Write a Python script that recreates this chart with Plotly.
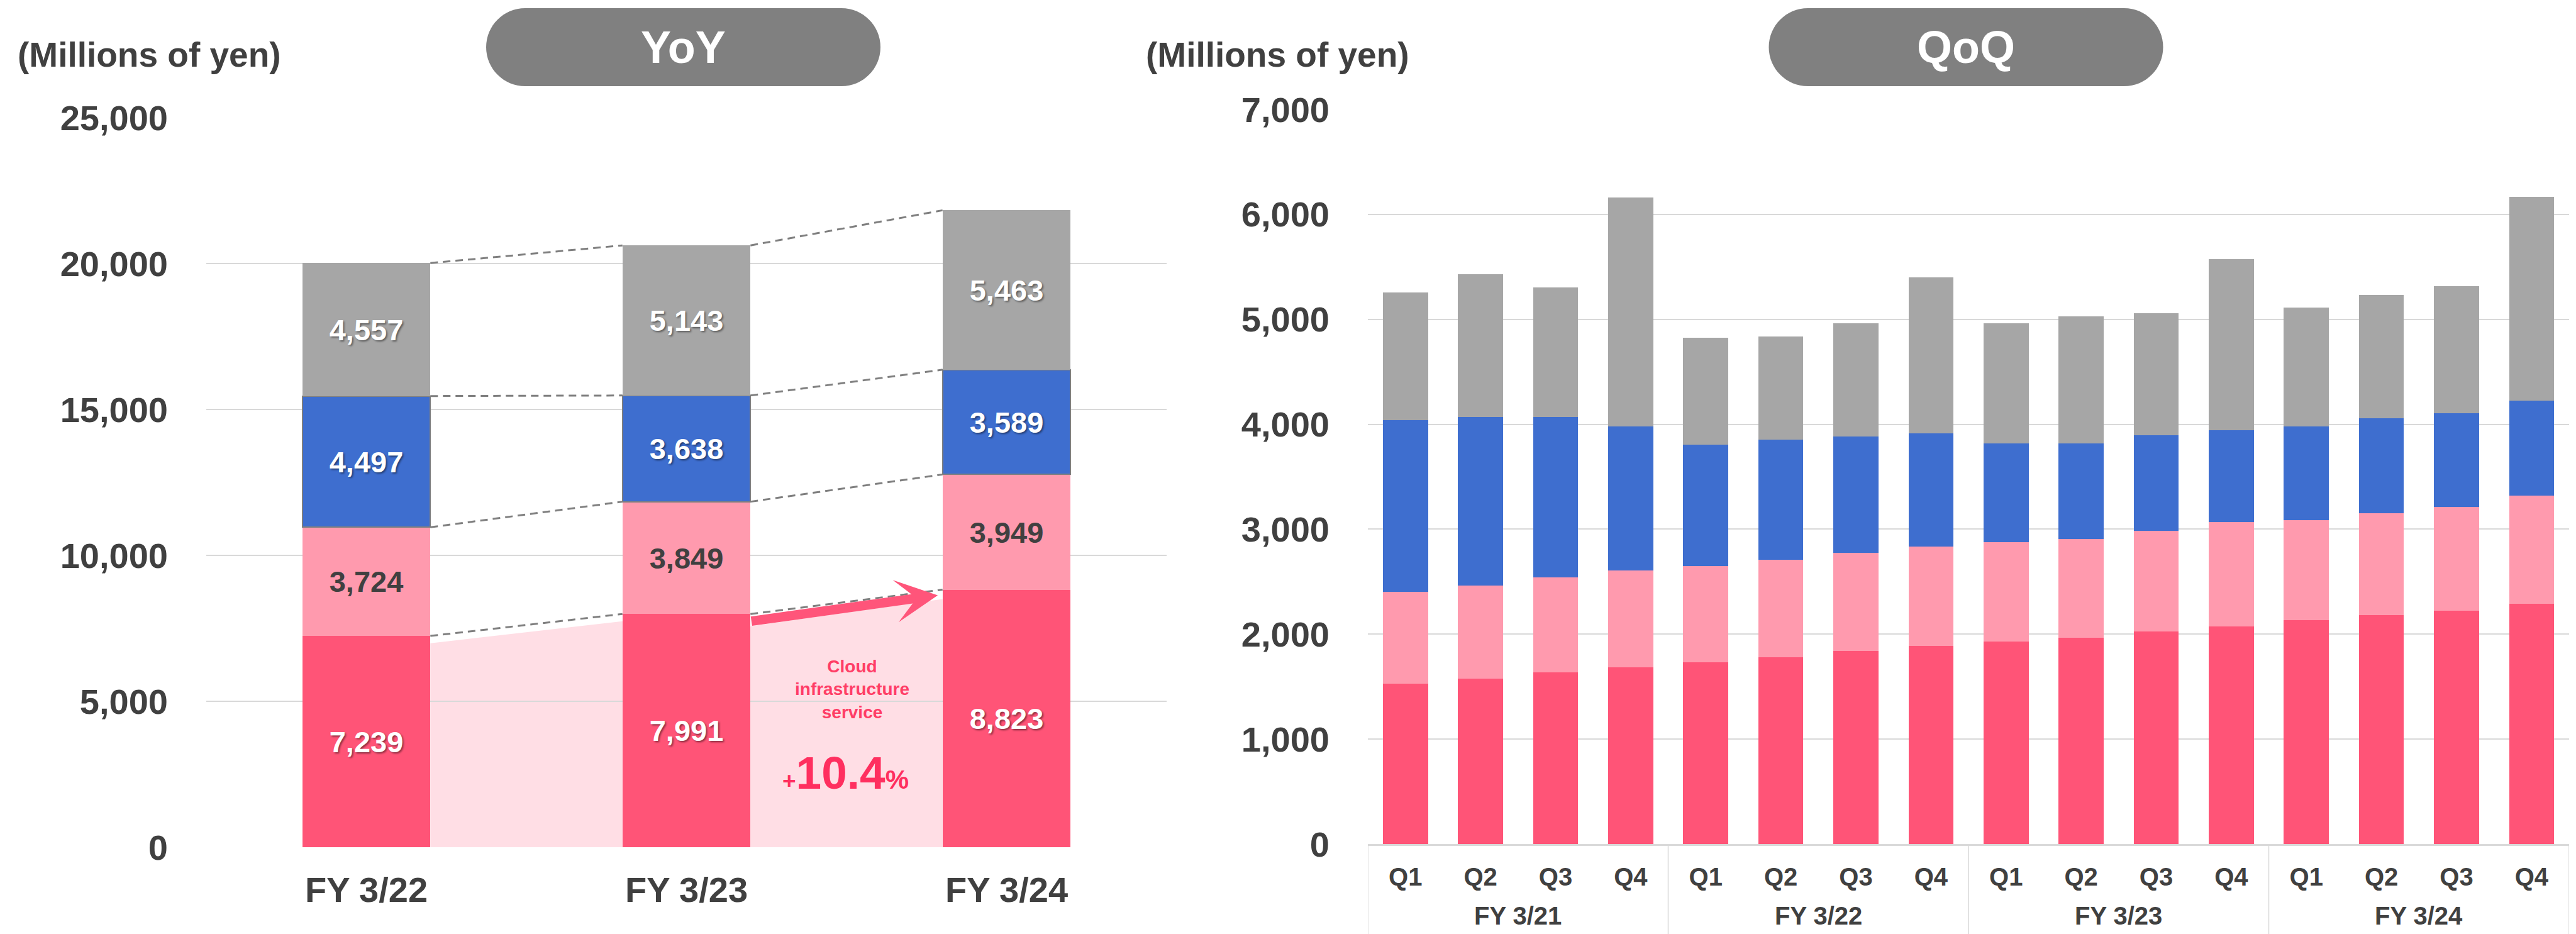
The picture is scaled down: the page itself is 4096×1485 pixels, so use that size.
import plotly.graph_objects as go

W, H = 4096, 1485
FONT = "Liberation Sans, Arial, sans-serif"
TXT = "#404040"

# ---------------- data ----------------
yoy_cats = ["FY 3/22", "FY 3/23", "FY 3/24"]
yoy_cloud = [7239, 7991, 8823]
yoy_pink = [3724, 3849, 3949]
yoy_blue = [4497, 3638, 3589]
yoy_gray = [4557, 5143, 5463]

fy_groups = ["FY 3/21", "FY 3/22", "FY 3/23", "FY 3/24"]
quarters = ["Q1", "Q2", "Q3", "Q4"]
qoq_cloud = [1529, 1576, 1639, 1685, 1732, 1779, 1841, 1887,
             1932, 1963, 2025, 2071, 2132, 2179, 2225, 2287]
qoq_pink = [874, 889, 904, 920, 916, 930, 931, 947,
            946, 946, 962, 995, 957, 972, 988, 1032]
qoq_blue = [1637, 1606, 1528, 1372, 1160, 1143, 1113, 1081,
            941, 910, 910, 877, 889, 905, 890, 905]
qoq_gray = [1216, 1356, 1232, 2183, 1014, 984, 1077, 1482,
            1145, 1208, 1161, 1629, 1132, 1179, 1210, 1942]

# ---------------- style ----------------
C_RED = "#FF5477"
C_PINK = "#FF9AAE"
C_BLUE = "#3E6ECF"
C_GRAY = "#A6A6A6"
C_AREA = "#FFDEE5"
GRID = "#D9D9D9"
SHADOW = "2px 2px 3px rgba(0,0,0,0.45)"

fig = go.Figure()

# ---------------- YoY stacked bars ----------------
yoy_x = list(range(len(yoy_cats)))
BW_L = 0.4
series_l = [
    (yoy_cloud, C_RED, "white", SHADOW, 0, None),
    (yoy_pink, C_PINK, TXT, "none", 0, None),
    (yoy_blue, C_BLUE, "white", SHADOW, 2, "#7F7F7F"),
    (yoy_gray, C_GRAY, "white", SHADOW, 0, None),
]
for vals, col, tcol, sh, lw, lc in series_l:
    fig.add_trace(go.Bar(
        x=yoy_x, y=vals, width=BW_L, xaxis="x", yaxis="y",
        marker=dict(color=col, line=dict(width=lw, color=lc or col)),
        text=[f"{v:,}" for v in vals], textposition="inside",
        insidetextanchor="middle", textangle=0, constraintext="none",
        textfont=dict(family=FONT, size=47, color=tcol, weight=700, shadow=sh),
        showlegend=False, hoverinfo="skip"))

# ---------------- QoQ stacked bars ----------------
qoq_x = list(range(len(qoq_cloud)))
BW_R = 0.6
for vals, col in [(qoq_cloud, C_RED), (qoq_pink, C_PINK),
                  (qoq_blue, C_BLUE), (qoq_gray, C_GRAY)]:
    fig.add_trace(go.Bar(
        x=qoq_x, y=vals, width=BW_R, xaxis="x2", yaxis="y2",
        marker=dict(color=col, line=dict(width=0)),
        showlegend=False, hoverinfo="skip"))

shapes = []
annotations = []

# cumulative levels for connectors
levels = []
acc = [0] * len(yoy_x)
for vals in [yoy_cloud, yoy_pink, yoy_blue, yoy_gray]:
    acc = [a + v for a, v in zip(acc, vals)]
    levels.append(acc)

hw = BW_L / 2
for lev in levels:
    for i in range(len(yoy_x) - 1):
        shapes.append(dict(type="line", xref="x", yref="y",
                           x0=yoy_x[i] + hw, y0=lev[i],
                           x1=yoy_x[i + 1] - hw, y1=lev[i + 1],
                           line=dict(color="#7F7F7F", width=3, dash="12px,8px"),
                           layer="above"))

# light pink growth area behind bars
off1, off2, off3 = 250, 420, 320
pts = [(yoy_x[0] + hw, yoy_cloud[0] - off1),
       (yoy_x[1] - hw, yoy_cloud[1] - off1),
       (yoy_x[1] + hw, yoy_cloud[1] - off2),
       (yoy_x[2] - hw, yoy_cloud[2] - off3)]
path = f"M {pts[0][0]},0 " + " ".join(f"L {px},{py}" for px, py in pts) + f" L {pts[-1][0]},0 Z"
shapes.append(dict(type="path", xref="x", yref="y", path=path,
                   fillcolor=C_AREA, line=dict(width=0), layer="below"))

# arrow
annotations.append(dict(
    x=yoy_x[2] - hw - 0.015, y=yoy_cloud[2] - 190,
    ax=yoy_x[1] + hw, ay=yoy_cloud[1] - 250,
    xref="x", yref="y", axref="x", ayref="y",
    showarrow=True, arrowhead=3, arrowsize=0.75, arrowwidth=15,
    arrowcolor="#FF557A", text="", standoff=0, startstandoff=0))

annotations.append(dict(
    x=1.517, y=5400, xref="x", yref="y", showarrow=False,
    text="Cloud<br>infrastructure<br>service",
    font=dict(family=FONT, size=28, color="#FF3D66", weight=700),
    align="center", xanchor="center", yanchor="middle"))
annotations.append(dict(
    x=1.497, y=2550, xref="x", yref="y", showarrow=False,
    text='<span style="font-size:37px">+</span>10.4<span style="font-size:42px">%</span>',
    font=dict(family=FONT, size=73, color="#FF2F5F", weight=700),
    xanchor="center", yanchor="middle"))

# titles
for cx in [237, 2031]:
    annotations.append(dict(
        x=cx / W, y=1 - 87 / H, xref="paper", yref="paper", showarrow=False,
        text="(Millions of yen)", xanchor="center", yanchor="middle",
        font=dict(family=FONT, size=55, color=TXT, weight=700)))


def stadium(w, h):
    r = h / 2
    a = w / 2 - r
    k = 0.5523 * r
    return (f"M {-a},{-r} L {a},{-r} C {a + k},{-r} {w/2},{-k} {w/2},0 "
            f"C {w/2},{k} {a + k},{r} {a},{r} L {-a},{r} "
            f"C {-a - k},{r} {-w/2},{k} {-w/2},0 C {-w/2},{-k} {-a - k},{-r} {-a},{-r} Z")


for cx, label in [(1086.5, "YoY"), (3126, "QoQ")]:
    shapes.append(dict(type="path", xref="paper", yref="paper",
                       xsizemode="pixel", ysizemode="pixel",
                       xanchor=cx / W, yanchor=1 - 75 / H,
                       path=stadium(627, 124), fillcolor="#808080",
                       line=dict(width=0), layer="above"))
    annotations.append(dict(
        x=cx / W, y=1 - 75 / H, xref="paper", yref="paper", showarrow=False,
        text=label, xanchor="center", yanchor="middle",
        font=dict(family=FONT, size=72, color="white", weight=700)))

# QoQ group dividers and labels
y2_bottom = 1 - 1342 / H
for g in range(len(fy_groups) + 1):
    shapes.append(dict(type="line", xref="x2", yref="paper",
                       x0=g * 4 - 0.5, x1=g * 4 - 0.5, y0=0, y1=y2_bottom,
                       line=dict(color=GRID, width=1.5)))
for g, name in enumerate(fy_groups):
    annotations.append(dict(
        x=g * 4 + 1.5, y=1 - 1456 / H, xref="x2", yref="paper",
        showarrow=False, text=name, xanchor="center", yanchor="middle",
        font=dict(family=FONT, size=40, color=TXT, weight=700)))

tickf_big = dict(family=FONT, size=56, color=TXT, weight=700)
tickf_small = dict(family=FONT, size=40, color=TXT, weight=700)

fig.update_layout(
    width=W, height=H, autosize=False,
    margin=dict(l=0, r=0, t=0, b=0, pad=0, autoexpand=False),
    paper_bgcolor="white", plot_bgcolor="white",
    barmode="stack", bargap=0,
    showlegend=False,
    shapes=shapes, annotations=annotations,
    xaxis=dict(domain=[328 / W, 1855 / W], range=[-0.5, 2.5], anchor="y",
               tickvals=yoy_x, ticktext=yoy_cats, showgrid=False,
               zeroline=False, showline=False, ticks="", automargin=False,
               tickfont=tickf_big, ticklabelstandoff=30, fixedrange=True),
    yaxis=dict(domain=[1 - 1347 / H, 1 - 187 / H], range=[0, 25000], anchor="x",
               tickvals=list(range(0, 25001, 5000)), tickformat=",",
               showgrid=True, gridcolor=GRID, gridwidth=2, zeroline=False,
               showline=False, ticks="", tickfont=tickf_big, automargin=False,
               ticklabelstandoff=60),
    xaxis2=dict(domain=[2175 / W, 4085 / W], range=[-0.5, 15.5], anchor="y2",
                tickvals=qoq_x, ticktext=quarters * len(fy_groups),
                showgrid=False, zeroline=False, showline=True, automargin=False,
                linecolor=GRID, linewidth=2.5, ticks="",
                tickfont=tickf_small, ticklabelstandoff=15),
    yaxis2=dict(domain=[1 - 1342 / H, 1 - 174 / H], range=[0, 7000], anchor="x2",
                tickvals=list(range(0, 7001, 1000)), tickformat=",",
                showgrid=True, gridcolor=GRID, gridwidth=2, zeroline=False,
                showline=False, ticks="", tickfont=tickf_big, automargin=False,
                ticklabelstandoff=60),
)

fig.write_html("out.html")
